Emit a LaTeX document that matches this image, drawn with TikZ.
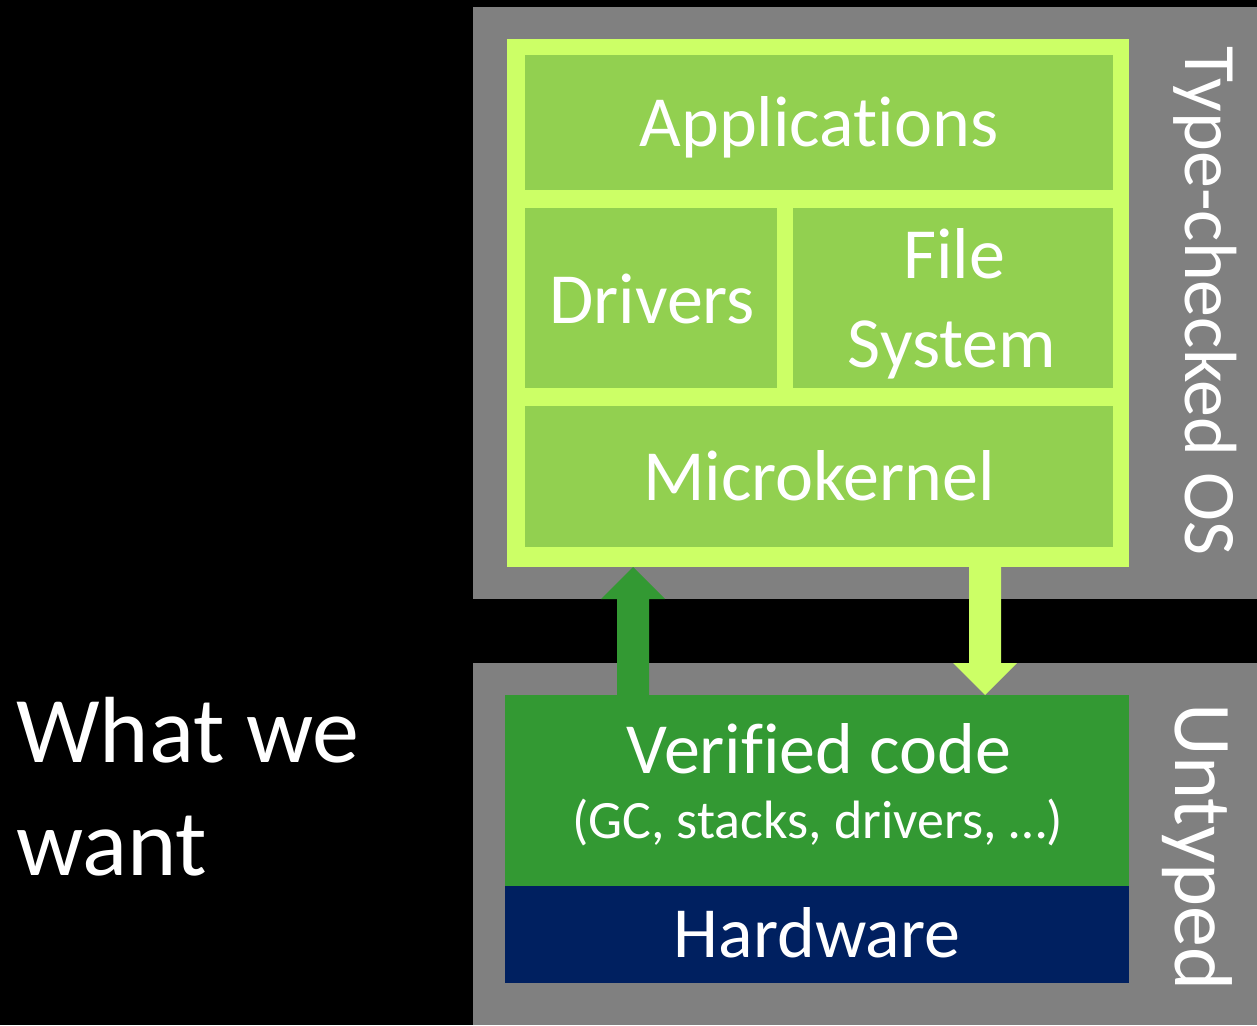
\documentclass[tikz,border=0pt]{standalone}
\usepackage{fontspec}
\setmainfont{Carlito}[Ligatures=NoCommon]
\usetikzlibrary{calc}
\definecolor{panelgray}{HTML}{808080}
\definecolor{limeg}{HTML}{CCFF66}
\definecolor{appg}{HTML}{92D050}
\definecolor{verg}{HTML}{339933}
\definecolor{navyb}{HTML}{002060}
\tikzset{
  blk/.style={rectangle, inner sep=0pt, outer sep=0pt, draw=none},
  lbl/.style={text=white, inner sep=0pt, anchor=base, font=\fontsize{72}{86}\selectfont},
}
\begin{document}
\begin{tikzpicture}[x=1pt,y=-1pt]
\fill[black] (0,0) rectangle (1257,1025);
\useasboundingbox (0,0) rectangle (1257,1025);
% panels
\node[blk, fill=panelgray, minimum width=784pt, minimum height=592pt] (toppanel) at (865,303) {};
\node[blk, fill=panelgray, minimum width=784pt, minimum height=362pt] (botpanel) at (865,844) {};
% OS block
\node[blk, fill=limeg, minimum width=622pt, minimum height=528pt] (os) at (818,303) {};
\node[blk, fill=appg, minimum width=588pt, minimum height=135pt] (apps) at (819,122.5) {};
\node[blk, fill=appg, minimum width=252pt, minimum height=180pt] (drv) at (651,298) {};
\node[blk, fill=appg, minimum width=320pt, minimum height=180pt] (fs) at (953,298) {};
\node[blk, fill=appg, minimum width=588pt, minimum height=141pt] (mk) at (819,476.5) {};
% lower blocks
\node[blk, fill=verg, minimum width=624pt, minimum height=191pt] (ver) at (817,790.5) {};
\node[blk, fill=navyb, minimum width=624pt, minimum height=97pt] (hw) at (817,934.5) {};
% arrows
\coordinate (ua) at ($(ver.north west)+(128,0)$);
\coordinate (ub) at ($(os.south west)+(126,0)$);
\fill[verg] ($(ua)+(-16,0)$) -- ($(ub)+(-16,32)$) -- ($(ub)+(-32,32)$) -- (ub)
  -- ($(ub)+(32,32)$) -- ($(ub)+(16,32)$) -- ($(ua)+(16,0)$) -- cycle;
\coordinate (da) at ($(os.south east)+(-144,0)$);
\coordinate (db) at ($(ver.north east)+(-144,0)$);
\fill[limeg] ($(da)+(-16,0)$) -- ($(db)+(-16,-32)$) -- ($(db)+(-32,-32)$) -- (db)
  -- ($(db)+(32,-32)$) -- ($(db)+(16,-32)$) -- ($(da)+(16,0)$) -- cycle;
% labels
\node[lbl] (tapps) at (819,146) {Applications};
\node[lbl] (tdrv) at (652,323) {Drivers};
\node[lbl] (tfile) at (954,278) {File};
\node[lbl] (tsys) at (952,367) {System};
\node[lbl] (tmk) at (819,500) {Microkernel};
\node[lbl] (tver) at (819,773) {Verified code};
\node[lbl, font=\fontsize{54}{64}\selectfont] (tgc) at (817.5,838) {(GC, stacks, drivers, …)};
\node[lbl] (thw) at (817,957) {Hardware};
\node[lbl, rotate=-90, font=\fontsize{74}{88}\selectfont] (tos) at (1185,301) {Type-checked OS};
\node[lbl, rotate=-90, font=\fontsize{82}{98}\selectfont] (tun) at (1175,847) {Untyped};
\node[lbl, anchor=base west, font=\fontsize{94}{113}\selectfont] (tw1) at (16,762) {What we};
\node[lbl, anchor=base west, font=\fontsize{94}{113}\selectfont] (tw2) at (16,875) {want};
\end{tikzpicture}
\end{document}
